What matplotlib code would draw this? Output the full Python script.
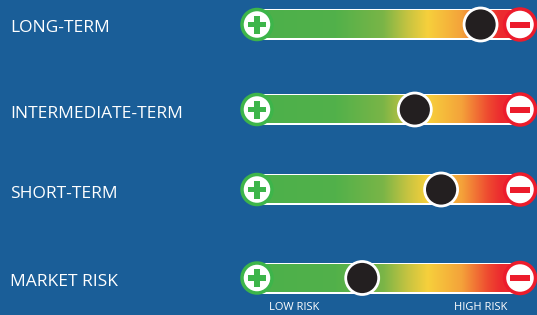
import numpy as np
import matplotlib
matplotlib.use('Agg')
import matplotlib.pyplot as plt
from matplotlib.colors import LinearSegmentedColormap
from matplotlib.patches import Circle, Rectangle

# risk gauges, value = position of the ball along the bar (0 = low, 1 = high)
labels = ["LONG-TERM", "INTERMEDIATE-TERM", "SHORT-TERM", "MARKET RISK"]
risk = [0.85, 0.60, 0.70, 0.40]
scale_labels = ["LOW RISK", "HIGH RISK"]

BG = "#1a5e98"
GREEN = "#3db54a"
RED = "#ec1c2c"

stops = [(0.0, "#4cb04b"), (0.30, "#52b14a"), (0.48, "#7ab547"), (0.57, "#c4c341"),
         (0.65, "#f7d03c"), (0.78, "#f4a23a"), (0.88, "#ee4a30"), (0.93, "#ec2a2f"),
         (1.0, "#ec2a2f")]
cmap = LinearSegmentedColormap.from_list("risk", stops)

W, H = 537, 315
fig = plt.figure(figsize=(W / 100, H / 100), dpi=100)
fig.patch.set_facecolor(BG)
ax = fig.add_axes([0, 0, 1, 1])
ax.set_xlim(0, W)
ax.set_ylim(H, 0)
ax.axis("off")
ax.set_facecolor(BG)

x0, x1 = 257, 520
rows_y = [24.5, 109.5, 189.5, 278]
half = 14
grad = np.linspace(0, 1, 512).reshape(1, -1)

for lab, r, yc in zip(labels, risk, rows_y):
    ax.text(10, yc + 4, lab, color="white", fontsize=12.5, family="Open Sans",
            va="center", ha="left")
    # white outline of bar
    ax.add_patch(Rectangle((x0, yc - half - 1.5), x1 - x0, 2 * half + 3,
                           facecolor="white", edgecolor="none", zorder=1))
    ax.imshow(grad, cmap=cmap, extent=(x0, x1, yc + half, yc - half),
              aspect="auto", zorder=2, interpolation="bilinear")
    # plus circle
    ax.add_patch(Circle((x0, yc), 15, facecolor="white", edgecolor=GREEN,
                        linewidth=2.5, zorder=4))
    ax.add_patch(Rectangle((x0 - 9, yc - 2.8), 18, 5.6, facecolor=GREEN,
                           edgecolor="none", zorder=5))
    ax.add_patch(Rectangle((x0 - 2.8, yc - 9), 5.6, 18, facecolor=GREEN,
                           edgecolor="none", zorder=5))
    # minus circle
    ax.add_patch(Circle((x1, yc), 15.5, facecolor="white", edgecolor=RED,
                        linewidth=2.5, zorder=4))
    ax.add_patch(Rectangle((x1 - 10, yc - 3), 20, 6, facecolor=RED,
                           edgecolor="none", zorder=5))
    # ball
    bx = x0 + r * (x1 - x0)
    ax.add_patch(Circle((bx, yc), 16.5, facecolor="#231f20", edgecolor="white",
                        linewidth=2, zorder=6))

ax.text(294, 307, scale_labels[0], color="white", fontsize=8, family="Open Sans",
        ha="center", va="center")
ax.text(481, 307, scale_labels[1], color="white", fontsize=8, family="Open Sans",
        ha="center", va="center")

fig.savefig("out.png", dpi=100, facecolor=BG)
